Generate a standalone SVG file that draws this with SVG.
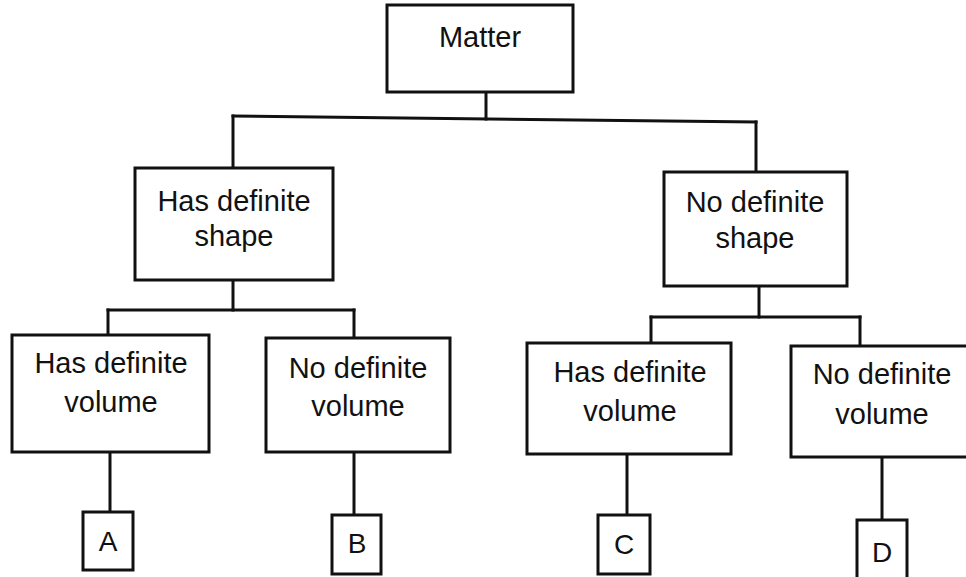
<svg xmlns="http://www.w3.org/2000/svg" width="966" height="577" viewBox="0 0 966 577">
<style>
.box{fill:#fff;stroke:#111;stroke-width:3}
.ln{stroke:#111;stroke-width:3;fill:none;stroke-linecap:square}
.t{font-family:"Liberation Sans",Arial,sans-serif;font-size:29px;fill:#111;text-anchor:middle}
.l{font-family:"Liberation Sans",Arial,sans-serif;font-size:28px;fill:#111;text-anchor:middle}
</style>
<rect width="966" height="577" fill="#fff"/>
<g id="connectors">
<line class="ln" x1="486" y1="92" x2="486" y2="119"/>
<line class="ln" x1="233" y1="116" x2="756" y2="122"/>
<line class="ln" x1="233" y1="116" x2="233" y2="168"/>
<line class="ln" x1="756" y1="122" x2="756" y2="172"/>
<line class="ln" x1="233" y1="280" x2="233" y2="310"/>
<line class="ln" x1="108" y1="310" x2="354" y2="310"/>
<line class="ln" x1="108" y1="310" x2="108" y2="335"/>
<line class="ln" x1="354" y1="310" x2="354" y2="338"/>
<line class="ln" x1="759" y1="286" x2="759" y2="317"/>
<line class="ln" x1="651" y1="317" x2="860" y2="317"/>
<line class="ln" x1="651" y1="317" x2="651" y2="343"/>
<line class="ln" x1="860" y1="317" x2="860" y2="346"/>
<line class="ln" x1="110" y1="452" x2="110" y2="512"/>
<line class="ln" x1="354" y1="452" x2="354" y2="515"/>
<line class="ln" x1="627" y1="454" x2="627" y2="515"/>
<line class="ln" x1="882" y1="457" x2="882" y2="520"/>
</g>
<g id="matter">
<rect class="box" x="387" y="5" width="186" height="87"/>
<text class="t" x="480" y="47">Matter</text>
</g>
<g id="has-definite-shape">
<rect class="box" x="135" y="168" width="198" height="112"/>
<text class="t" x="234" y="211">Has definite</text>
<text class="t" x="234" y="246">shape</text>
</g>
<g id="no-definite-shape">
<rect class="box" x="664" y="172" width="183" height="114"/>
<text class="t" x="755" y="212">No definite</text>
<text class="t" x="755" y="248">shape</text>
</g>
<g id="has-definite-volume-1">
<rect class="box" x="12" y="335" width="197" height="117"/>
<text class="t" x="111" y="373">Has definite</text>
<text class="t" x="111" y="412">volume</text>
</g>
<g id="no-definite-volume-1">
<rect class="box" x="266" y="338" width="184" height="114"/>
<text class="t" x="358" y="378">No definite</text>
<text class="t" x="358" y="416">volume</text>
</g>
<g id="has-definite-volume-2">
<rect class="box" x="527" y="343" width="204" height="111"/>
<text class="t" x="630" y="382">Has definite</text>
<text class="t" x="630" y="421">volume</text>
</g>
<g id="no-definite-volume-2">
<rect class="box" x="791" y="346" width="190" height="111"/>
<text class="t" x="882" y="384">No definite</text>
<text class="t" x="882" y="424">volume</text>
</g>
<g id="A">
<rect class="box" x="83" y="512" width="50" height="58"/>
<text class="l" x="108" y="551">A</text>
</g>
<g id="B">
<rect class="box" x="332" y="515" width="49" height="59"/>
<text class="l" x="357" y="553">B</text>
</g>
<g id="C">
<rect class="box" x="598" y="515" width="52" height="59"/>
<text class="l" x="624" y="554">C</text>
</g>
<g id="D">
<rect class="box" x="857" y="520" width="50" height="62"/>
<text class="l" x="882" y="562">D</text>
</g>
</svg>
